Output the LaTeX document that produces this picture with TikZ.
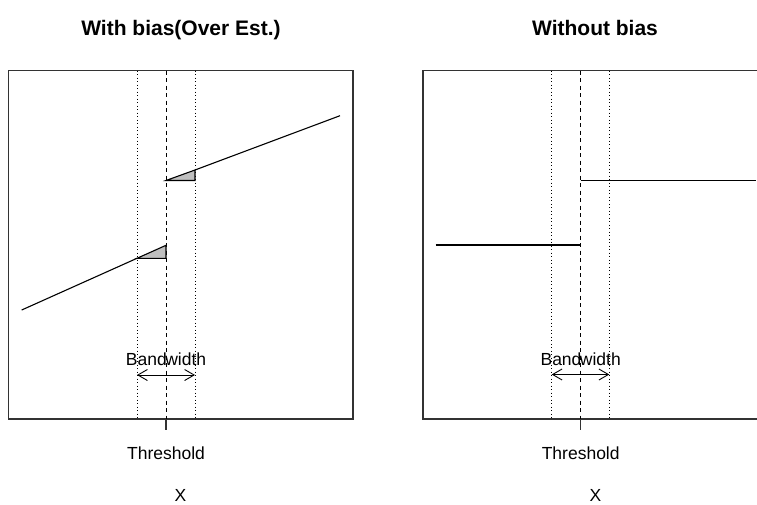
\documentclass[tikz,border=0pt]{standalone}
\usepackage{fontspec}
\setmainfont{Liberation Sans}
\usetikzlibrary{arrows.meta}
\begin{document}
\begin{tikzpicture}[x=1pt,y=-1pt,
  frame/.style={line width=1.3pt, black!80},
  curve/.style={line width=1.1pt},
  cutoff/.style={line width=0.9pt, dash pattern=on 4pt off 3.5pt},
  bandedge/.style={line width=0.8pt, dash pattern=on 1pt off 2.5pt},
  gap/.style={curve, fill=black!25},
  lbl/.style={font=\fontsize{17.5}{21}\selectfont, anchor=base, inner sep=0pt},
  ttl/.style={font=\fontsize{21}{25}\selectfont\bfseries, anchor=base, inner sep=0pt},
  bw/.style={line width=0.9pt, {Straight Barb[length=9.5pt,width=11pt]}-{Straight Barb[length=9.5pt,width=11pt]}}
]
\useasboundingbox (0,0) rectangle (757,504);
\fill[white] (0,0) rectangle (757,504);

% ---------- left panel: with bias ----------
\node[ttl] (ttlA) at (181,35) {With bias(Over Est.)};
\draw[frame] (8.3,70.7) rectangle (353,419);
\coordinate (A0) at (166,70.7);
\coordinate (A1) at (166,419);
\coordinate (Aty) at (166,430);
\draw[cutoff] (A0) -- (A1);
\draw[frame] (A1) -- (Aty);
\draw[bandedge] (137,70.7) -- (137,419);
\draw[bandedge] (195,70.7) -- (195,419);
% regression lines with the shaded gaps
\draw[curve] (21.7,310) -- (137,258.3);
\draw[gap] (137,258.3) -- (166,245.3) -- (166,258.3) -- cycle;
\draw[gap] (166,180.5) -- (195,170) -- (195,180.5) -- cycle;
\draw[curve] (195,170) -- (340,115.7);
% bandwidth marker
\coordinate (AbL) at (137,375);
\coordinate (AbR) at (195,375);
\draw[bw] (AbL) -- (AbR);
\node[lbl] (bwA) at (166,365) {Band\kern-1.5pt width};
\node[lbl] (thA) at (166,459.3) {Threshold};
\node[lbl] (xA) at (180.5,501) {X};

% ---------- right panel: without bias ----------
\node[ttl] (ttlB) at (595,35) {Without bias};
\draw[frame] (757,70.7) -- (423,70.7) -- (423,419) -- (757,419);
\coordinate (B0) at (580.7,70.7);
\coordinate (B1) at (580.7,419);
\coordinate (Bty) at (580.7,430);
\draw[cutoff] (B0) -- (B1);
\draw[frame] (B1) -- (Bty);
\draw[bandedge] (551.7,70.7) -- (551.7,419);
\draw[bandedge] (609.3,70.7) -- (609.3,419);
% step function
\draw[curve] (435.7,245) -- (580.7,245);
\draw[curve] (580.7,180.7) -- (756,180.7);
% bandwidth marker
\coordinate (BbL) at (551.7,374.5);
\coordinate (BbR) at (609.3,374.5);
\draw[bw] (BbL) -- (BbR);
\node[lbl] (bwB) at (580.7,365) {Band\kern-1.5pt width};
\node[lbl] (thB) at (580.7,459.3) {Threshold};
\node[lbl] (xB) at (595.5,501) {X};
\end{tikzpicture}
\end{document}
